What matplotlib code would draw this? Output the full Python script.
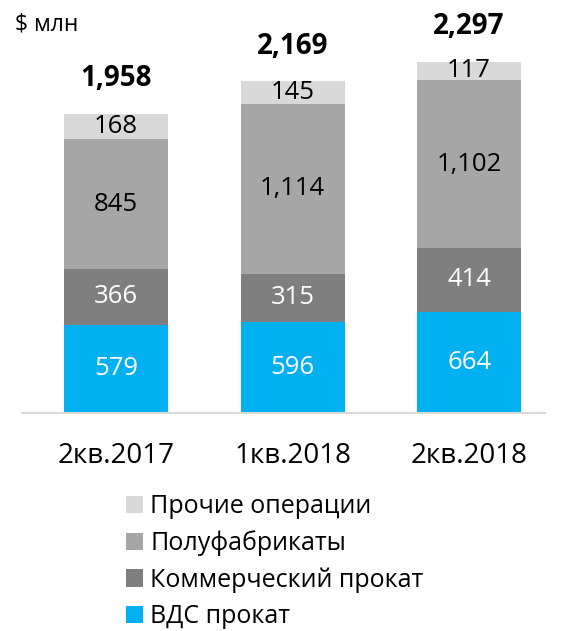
import matplotlib.pyplot as plt
import numpy as np

plt.rcParams['font.family'] = ['Open Sans', 'DejaVu Sans']

periods = ['2кв.2017', '1кв.2018', '2кв.2018']
series_names = ['ВДС прокат', 'Коммерческий прокат', 'Полуфабрикаты', 'Прочие операции']
vds = [579, 596, 664]
commercial = [366, 315, 414]
semis = [845, 1114, 1102]
other = [168, 145, 117]
totals = [1958, 2169, 2297]

colors = ['#00B0F0', '#7F7F7F', '#A6A6A6', '#D9D9D9']
text_colors = ['white', 'white', 'black', 'black']

fig = plt.figure(figsize=(5.63, 6.31), dpi=100)
ax = fig.add_axes([22 / 563, 218 / 631, 523 / 563, 405 / 631])

x = np.arange(len(periods))
bottom = np.zeros(len(periods))
handles = []
for vals, name, col, tcol in zip([vds, commercial, semis, other], series_names, colors, text_colors):
    bars = ax.bar(x, vals, width=0.59, bottom=bottom, color=col, label=name)
    handles.append(bars)
    for xi, b, v in zip(x, bottom, vals):
        ax.text(xi, b + v / 2, f'{v:,}', ha='center', va='center', fontsize=18.5, color=tcol)
    bottom += np.array(vals)

for xi, t in zip(x, totals):
    ax.text(xi, t + 230, f'{t:,}', ha='center', va='center', fontsize=20, fontweight='bold')

ax.set_xlim(-0.533, 2.43)
ax.set_ylim(0, 2650)
ax.set_xticks(x)
ax.set_xticklabels(periods, fontsize=20)
ax.tick_params(axis='x', length=0, pad=21)
ax.set_yticks([])
for side in ['left', 'right', 'top']:
    ax.spines[side].set_visible(False)
ax.spines['bottom'].set_color('#D9D9D9')
ax.spines['bottom'].set_linewidth(1.5)

fig.text(15 / 563, 1 - 25 / 631, '$ млн', ha='left', va='center', fontsize=16.5)

fig.legend(handles[::-1], series_names[::-1], loc='upper left',
           bbox_to_anchor=(126 / 563, 1 - 494 / 631), frameon=False,
           fontsize=18, handlelength=0.68, handleheight=0.68,
           handletextpad=0.3, labelspacing=0.45, borderpad=0, borderaxespad=0)

fig.savefig('out.png', dpi=100)
